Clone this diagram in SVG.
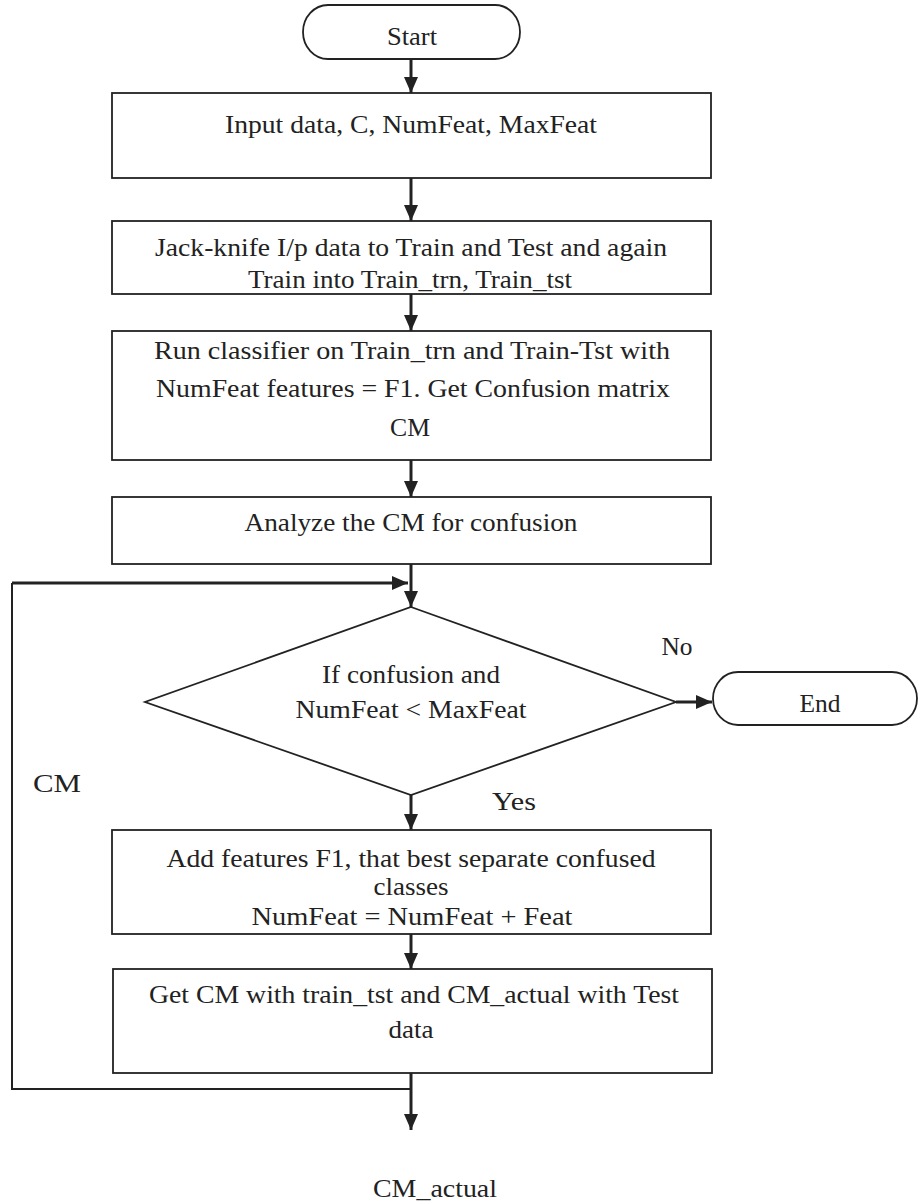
<svg xmlns="http://www.w3.org/2000/svg" width="918" height="1202" viewBox="0 0 918 1202">
<defs>
<style>
.box{fill:#fff;stroke:#222;stroke-width:1.8}
.t{font-family:"Liberation Serif","Tinos","Times New Roman","DejaVu Serif",serif;font-size:26px;fill:#222;text-anchor:middle}
.c{fill:none;stroke:#222;stroke-width:3}
.l{fill:none;stroke:#222;stroke-width:2}
</style>
<marker id="av" markerWidth="16" markerHeight="16" refX="16" refY="8" orient="auto" markerUnits="userSpaceOnUse" viewBox="0 0 16 16">
<path d="M0,1 L16,8 L0,15 Z" fill="#222"/>
</marker>
</defs>
<rect width="918" height="1202" fill="#fff"/>
<g id="connectors">
<line class="c" x1="411" y1="59" x2="411" y2="93" marker-end="url(#av)"/>
<line class="c" x1="411" y1="178" x2="411" y2="221" marker-end="url(#av)"/>
<line class="c" x1="411" y1="294" x2="411" y2="331" marker-end="url(#av)"/>
<line class="c" x1="411" y1="460" x2="411" y2="497" marker-end="url(#av)"/>
<line class="c" x1="411" y1="564" x2="411" y2="607" marker-end="url(#av)"/>
<line class="c" x1="676" y1="702" x2="712" y2="702" marker-end="url(#av)"/>
<line class="c" x1="411" y1="795" x2="411" y2="830" marker-end="url(#av)"/>
<line class="c" x1="411" y1="934" x2="411" y2="969" marker-end="url(#av)"/>
<line class="c" x1="411" y1="1073" x2="411" y2="1130" marker-end="url(#av)"/>
<polyline class="l" points="411,1089 12,1089 12,583"/>
<line class="c" x1="12" y1="583" x2="408" y2="583" marker-end="url(#av)"/>
<text class="t" x="677" y="655" textLength="31" lengthAdjust="spacingAndGlyphs">No</text>
<text class="t" x="514" y="810" textLength="44" lengthAdjust="spacingAndGlyphs">Yes</text>
<text class="t" x="57" y="792" textLength="48" lengthAdjust="spacingAndGlyphs">CM</text>
<text class="t" x="435" y="1197" textLength="124" lengthAdjust="spacingAndGlyphs">CM_actual</text>
</g>
<g id="start">
<path class="box" d="M328,5 H495 A25,27 0 0 1 495,59 H328 A25,27 0 0 1 328,5 Z"/>
<text class="t" x="412" y="45" textLength="50" lengthAdjust="spacingAndGlyphs">Start</text>
</g>
<g id="input">
<rect class="box" x="112" y="93" width="599" height="85"/>
<text class="t" x="411" y="133" textLength="372" lengthAdjust="spacingAndGlyphs">Input data, C, NumFeat, MaxFeat</text>
</g>
<g id="jackknife">
<rect class="box" x="112" y="221" width="599" height="73"/>
<text class="t" x="411" y="256" textLength="512" lengthAdjust="spacingAndGlyphs">Jack-knife I/p data to Train and Test and again</text>
<text class="t" x="410" y="288" textLength="324" lengthAdjust="spacingAndGlyphs">Train into Train_trn, Train_tst</text>
</g>
<g id="classifier">
<rect class="box" x="112" y="331" width="599" height="129"/>
<text class="t" x="412" y="359" textLength="516" lengthAdjust="spacingAndGlyphs">Run classifier on Train_trn and Train-Tst with</text>
<text class="t" x="413" y="397" textLength="514" lengthAdjust="spacingAndGlyphs">NumFeat features = F1. Get Confusion matrix</text>
<text class="t" x="410" y="436" textLength="40" lengthAdjust="spacingAndGlyphs">CM</text>
</g>
<g id="analyze">
<rect class="box" x="112" y="497" width="599" height="67"/>
<text class="t" x="411" y="531" textLength="333" lengthAdjust="spacingAndGlyphs">Analyze the CM for confusion</text>
</g>
<g id="decision">
<polygon class="box" points="411,607 676,702 411,795 145,702"/>
<text class="t" x="411" y="683" textLength="178" lengthAdjust="spacingAndGlyphs">If confusion and</text>
<text class="t" x="411" y="718" textLength="231" lengthAdjust="spacingAndGlyphs">NumFeat &lt; MaxFeat</text>
</g>
<g id="end">
<path class="box" d="M738,672 H892 A25,26.5 0 0 1 892,725 H738 A25,26.5 0 0 1 738,672 Z"/>
<text class="t" x="820" y="712" textLength="41" lengthAdjust="spacingAndGlyphs">End</text>
</g>
<g id="addfeat">
<rect class="box" x="112" y="830" width="599" height="104"/>
<text class="t" x="411" y="867" textLength="489" lengthAdjust="spacingAndGlyphs">Add features F1, that best separate confused</text>
<text class="t" x="411" y="895" textLength="75" lengthAdjust="spacingAndGlyphs">classes</text>
<text class="t" x="412" y="925" textLength="321" lengthAdjust="spacingAndGlyphs">NumFeat =  NumFeat + Feat</text>
</g>
<g id="getcm">
<rect class="box" x="113" y="969" width="599" height="104"/>
<text class="t" x="414" y="1003" textLength="530" lengthAdjust="spacingAndGlyphs">Get CM with train_tst and CM_actual with Test</text>
<text class="t" x="411" y="1038" textLength="45" lengthAdjust="spacingAndGlyphs">data</text>
</g>
</svg>
